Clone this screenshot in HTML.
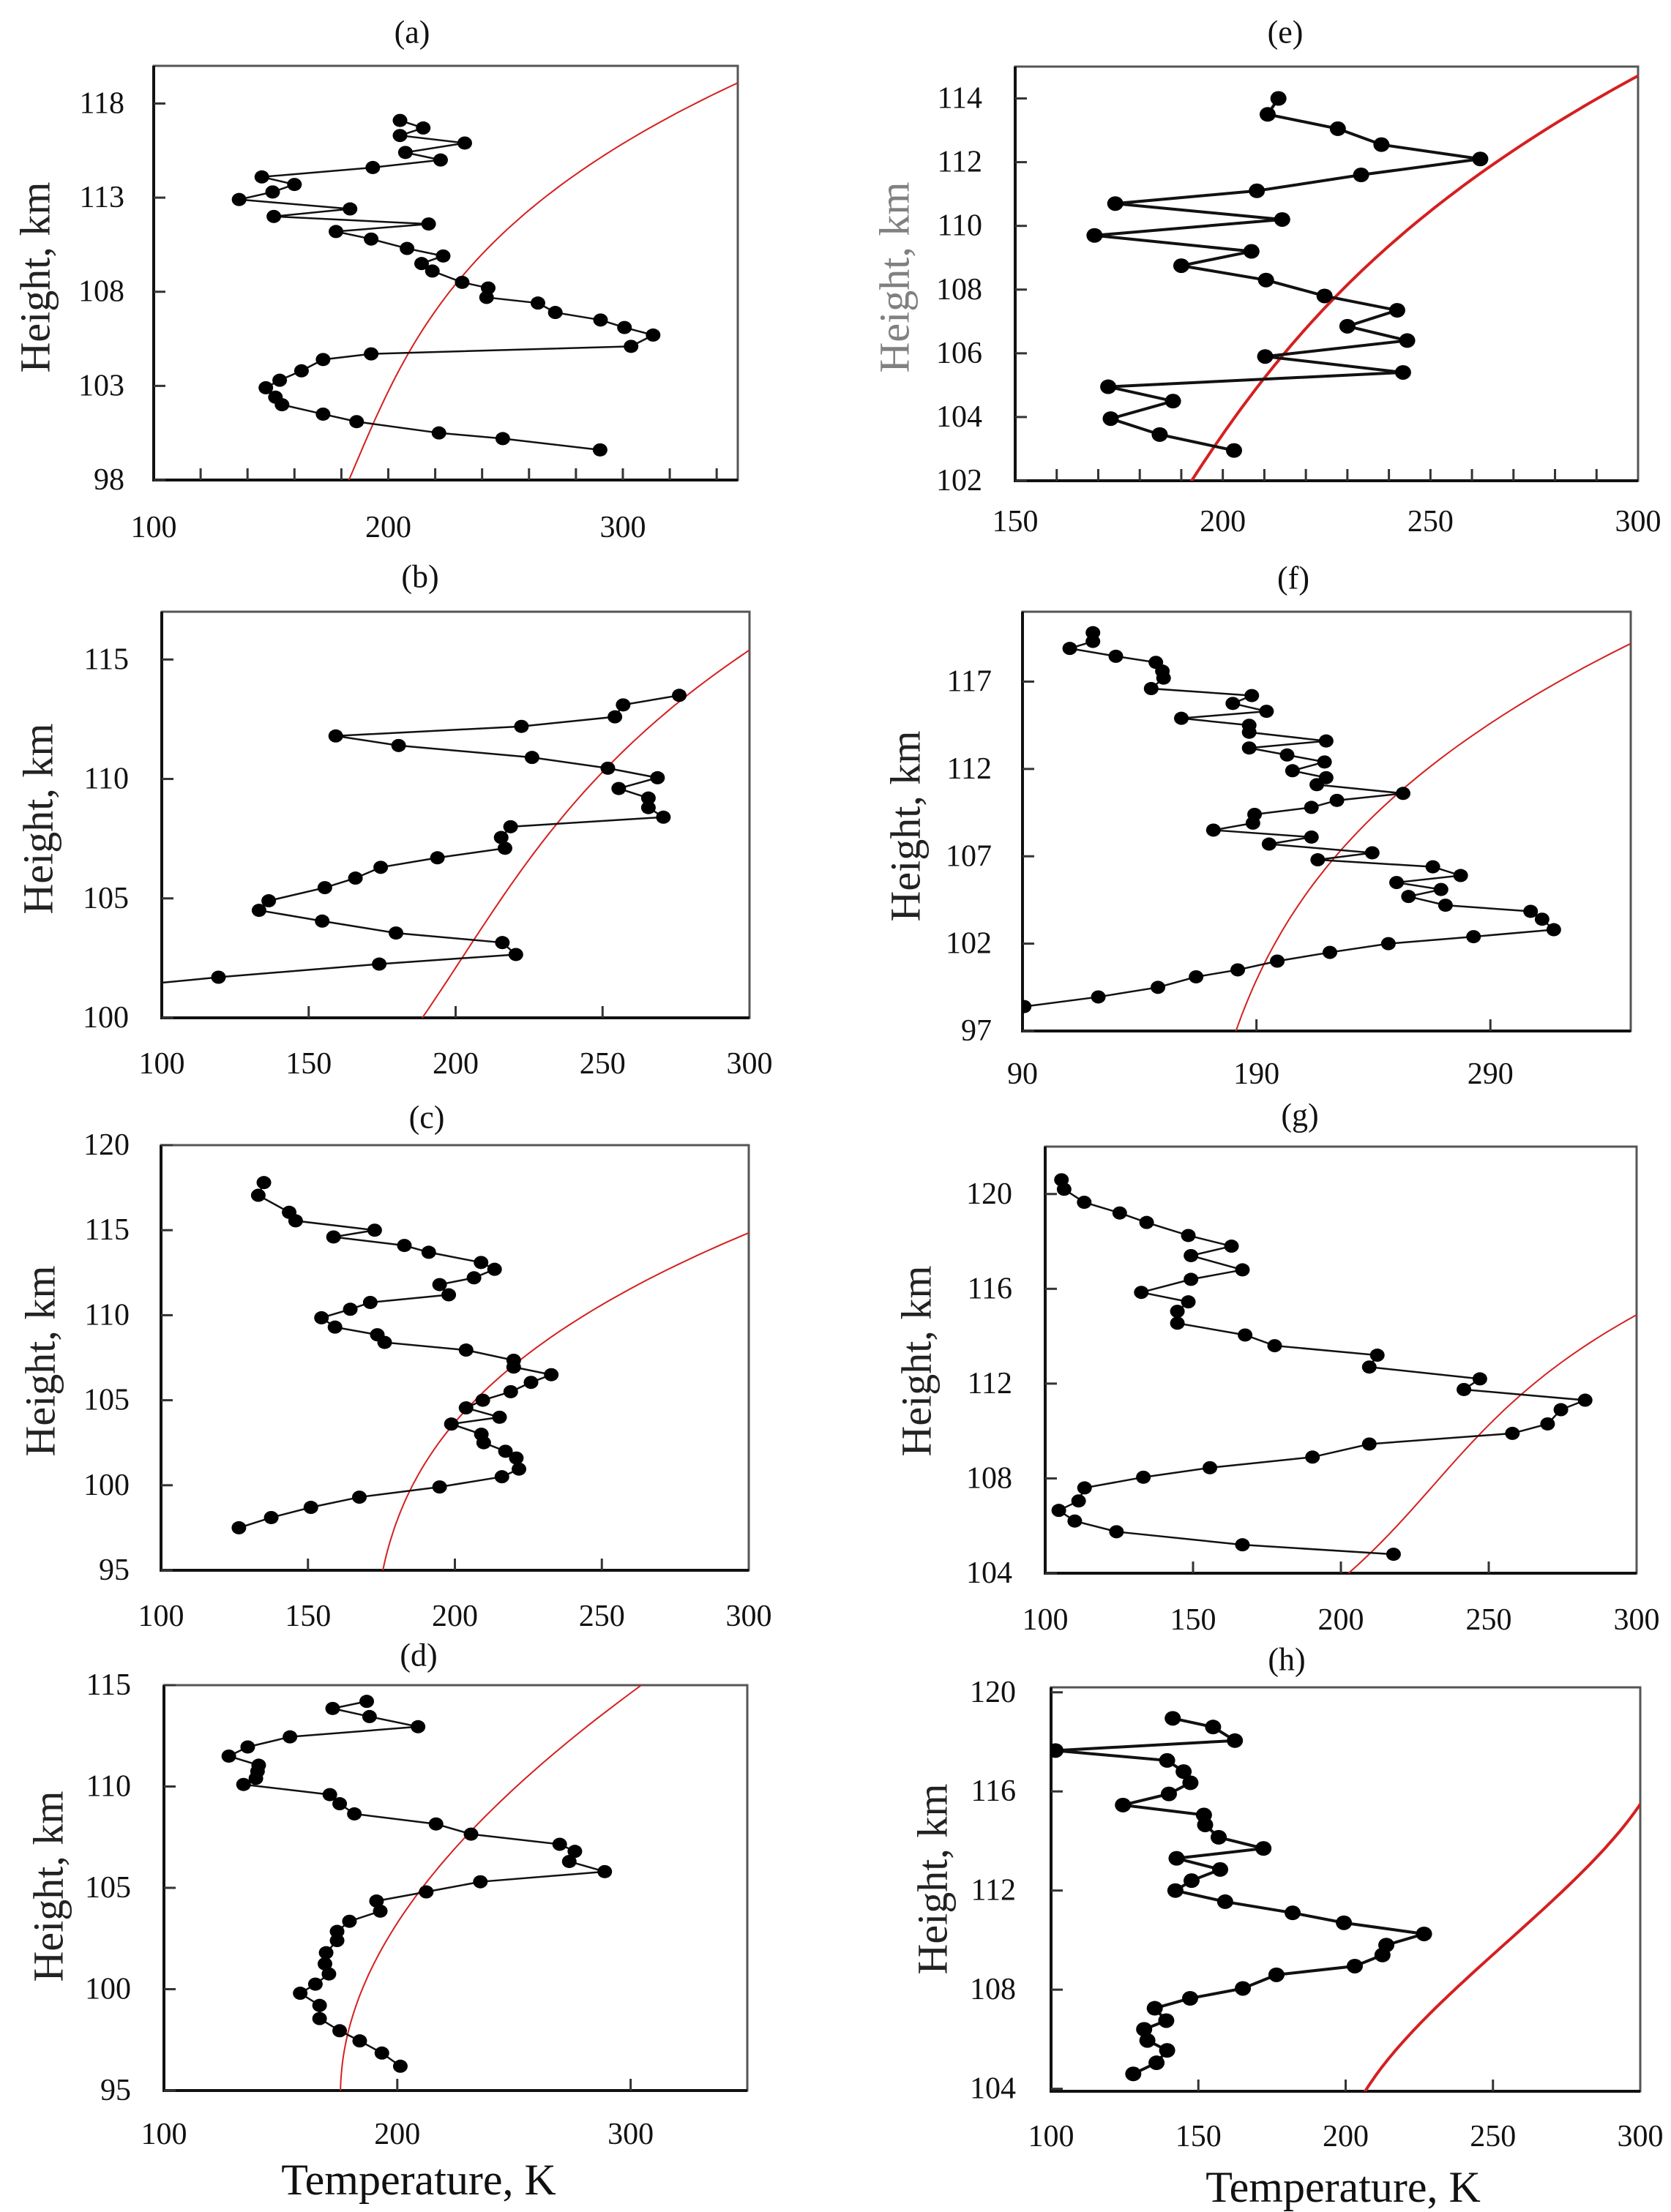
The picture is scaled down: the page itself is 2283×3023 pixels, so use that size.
<!DOCTYPE html>
<html><head><meta charset="utf-8"><title>Temperature profiles</title>
<style>
html,body{margin:0;padding:0;background:#fff;}
svg{display:block;}
text{font-family:"Liberation Serif","DejaVu Serif",serif;fill:#111;}
</style></head>
<body>
<svg id="fig" xmlns="http://www.w3.org/2000/svg" width="2283" height="3023" viewBox="0 0 2283 3023"></svg>
<script>
// ---- data (T in K, H in km) ----
const aT=[205,214.9,205,232.6,207.3,222.3,193.4,146.1,160,150.7,136.4,183.7,151.2,217.2,177.7,192.7,208,223.4,214.2,218.8,231.5,242.6,241.9,263.8,271.2,290.5,300.7,312.9,303.5,192.7,172.2,163,153.7,147.8,151.9,154.7,172.2,186.5,221.6,248.8,290.3];
const aH=[117.1,116.7,116.3,115.9,115.4,115.0,114.6,114.1,113.7,113.3,112.9,112.4,112.0,111.6,111.2,110.8,110.3,109.9,109.5,109.1,108.5,108.2,107.7,107.4,106.9,106.5,106.1,105.7,105.1,104.7,104.4,103.8,103.3,102.9,102.4,102.0,101.5,101.1,100.5,100.2,99.6];
const aCT=[184,189,200,211,228,239,265,295,349];
const aCH=[98,100,103,105,108,110,113,115.4,119.1];

const eT=[213.4,210.8,227.7,238.2,262,233.3,208.2,174.1,214.3,169.1,206.9,190,210.4,224.5,242,230,244.4,210.2,243.4,172.4,188,173,184.8,202.7];
const eH=[114.0,113.5,113.05,112.55,112.1,111.6,111.1,110.7,110.2,109.7,109.2,108.75,108.3,107.8,107.35,106.85,106.4,105.9,105.4,104.95,104.5,103.95,103.45,102.95];
const eCT=[192.6,197.8,209.5,214.7,227.7,243.4,263,300];
const eCH=[102,103.05,105.2,106,107.8,109.7,111.8,114.7];

const bT=[276.1,257,254.2,222.4,159.2,180.6,226,251.8,268.7,255.5,265.6,265.6,270.7,218.7,215.5,216.8,193.8,174.5,165.9,155.5,136.4,133.1,154.6,179.7,215.9,220.5,174,119.3,90];
const bH=[113.5,113.1,112.6,112.2,111.8,111.4,110.9,110.45,110.05,109.6,109.2,108.8,108.4,108.0,107.55,107.1,106.7,106.3,105.85,105.45,104.9,104.5,104.05,103.55,103.15,102.65,102.25,101.7,101.35];
const bCT=[190.2,198.5,206.8,228.8,250.9,276.6,301];
const bCH=[100,102.3,103.7,106.5,110.6,113.4,115.4];

const fT=[120.1,120.1,110.2,129.9,147,149.8,150.3,145,188,179.9,194.3,157.9,186.9,186.9,219.8,186.9,203.1,219.1,205.4,219.8,215.8,252.7,224.4,213.5,189.2,188.5,171.6,213.5,195.4,239.5,216.2,265.4,277.3,249.9,268.9,255,270.8,307.2,312.1,317.1,282.8,246.4,221.4,198.9,182,164.2,147.9,122.4,90.7];
const fH=[119.8,119.3,118.9,118.45,118.1,117.6,117.2,116.6,116.2,115.75,115.3,114.9,114.5,114.1,113.6,113.2,112.8,112.4,111.9,111.5,111.1,110.6,110.2,109.8,109.4,108.9,108.5,108.1,107.7,107.2,106.8,106.4,105.9,105.5,105.1,104.7,104.2,103.85,103.4,102.8,102.4,102.0,101.5,101.0,100.5,100.1,99.5,98.95,98.4];
const fCT=[182.2,189.7,205.9,224.4,254.5,298.6,350];
const fCH=[97,100.5,103.6,107.1,110.8,115.6,119.1];

const cT=[135,133.1,143.6,145.8,172.7,158.7,182.8,191.1,208.9,213.5,206.5,194.8,197.9,171.2,164.4,154.6,159.2,173.6,176.1,203.8,220,220,232.8,225.9,219,209.5,203.8,215.2,198.8,209,209.8,217.2,220.9,221.8,216,194.8,167.5,151,137.5,126.5];
const cH=[117.8,117.05,116.05,115.55,115.0,114.6,114.1,113.7,113.1,112.7,112.2,111.8,111.2,110.75,110.35,109.85,109.3,108.85,108.4,107.95,107.35,106.95,106.5,106.05,105.5,105.0,104.55,104.0,103.6,103.0,102.5,102.0,101.6,100.95,100.5,99.9,99.3,98.7,98.1,97.5];
const cCT=[175.8,179.5,185,196,220,251.2,301];
const cCH=[95,97.8,99.9,102.7,107,110.8,114.9];

const gT=[105.5,106.4,113.2,125.2,134.3,148.4,163,149.3,166.7,149.3,132.5,148.4,144.7,144.7,167.6,177.6,212.3,209.6,247,241.6,282.6,274.4,269.9,258,209.6,190.4,155.7,133.2,113.3,111.3,104.6,110,124.1,166.7,217.8];
const gH=[120.6,120.2,119.65,119.2,118.8,118.25,117.8,117.4,116.8,116.4,115.85,115.45,115.05,114.55,114.05,113.6,113.2,112.7,112.2,111.75,111.3,110.9,110.3,109.9,109.45,108.9,108.45,108.05,107.6,107.05,106.65,106.2,105.75,105.2,104.8];
const gCT=[203.2,211.4,229.7,244.3,259.8,300];
const gCH=[104,105.2,107.3,109.6,111.4,114.9];

const dT=[186.9,172.3,188.1,208.9,154,135.9,127.8,140.6,140.1,139.4,134.1,171.1,175.3,181.6,216.6,231.6,269.6,276.1,273.7,288.9,235.6,212.4,191.1,192.7,179.5,174.2,174.2,169.5,169,170.7,164.9,158.4,166.7,166.7,175.3,183.9,193.4,201.3];
const dH=[114.2,113.85,113.45,112.95,112.45,111.95,111.5,111.05,110.75,110.4,110.1,109.6,109.15,108.65,108.15,107.65,107.15,106.8,106.3,105.8,105.3,104.8,104.35,103.85,103.35,102.85,102.4,101.8,101.25,100.75,100.25,99.8,99.2,98.55,97.95,97.45,96.85,96.2];
const dCT=[175.3,177.6,186.9,205.4,231,261,304];
const dCH=[95,97.2,100.1,104.4,107.9,110.8,115];

const hT=[141.3,155,162.4,101.5,139.4,145,147.3,140,124.4,151.9,152.3,156.9,172.1,142.6,157.4,147.7,142.2,159.1,182,199.4,226.6,213.8,212.5,203.1,176.5,165.1,147.2,135.2,139.1,131.6,132.7,139.4,135.8,127.9];
const hH=[118.95,118.6,118.05,117.65,117.25,116.8,116.35,115.9,115.45,115.05,114.65,114.15,113.7,113.3,112.85,112.4,112.0,111.55,111.1,110.7,110.25,109.8,109.4,108.95,108.6,108.05,107.65,107.25,106.75,106.4,105.95,105.55,105.05,104.6];
const hCT=[206.4,219.3,237.6,256,274.3,300];
const hCH=[103.9,105.8,108.1,110.1,112,115.5];

// tick labels
const aXTicks=[100,200,300], aYTicks=[98,103,108,113,118];
const eXTicks=[150,200,250,300], eYTicks=[102,104,106,108,110,112,114];
const bXTicks=[100,150,200,250,300], bYTicks=[100,105,110,115];
const fXTicks=[90,190,290], fYTicks=[97,102,107,112,117];
const cXTicks=[100,150,200,250,300], cYTicks=[95,100,105,110,115,120];
const gXTicks=[100,150,200,250,300], gYTicks=[104,108,112,116,120];
const dXTicks=[100,200,300], dYTicks=[95,100,105,110,115];
const hXTicks=[100,150,200,250,300], hYTicks=[104,108,112,116,120];

const NS='http://www.w3.org/2000/svg';
const svg=document.getElementById('fig');
function mk(tag,attrs,parent){const e=document.createElementNS(NS,tag);for(const k in attrs)e.setAttribute(k,attrs[k]);(parent||svg).appendChild(e);return e;}

// least-squares polynomial fit of T(h)
function polyfit(xs,ys,deg){
  const n=deg+1,A=[];for(let i=0;i<n;i++){A.push(new Array(n+1).fill(0));}
  xs.forEach((x,k)=>{for(let i=0;i<n;i++){for(let j=0;j<n;j++)A[i][j]+=Math.pow(x,i+j);A[i][n]+=ys[k]*Math.pow(x,i);}});
  for(let i=0;i<n;i++){let m=i;for(let r=i+1;r<n;r++)if(Math.abs(A[r][i])>Math.abs(A[m][i]))m=r;[A[i],A[m]]=[A[m],A[i]];
    for(let r=0;r<n;r++){if(r===i)continue;const f=A[r][i]/A[i][i];for(let c=i;c<=n;c++)A[r][c]-=f*A[i][c];}}
  return A.map((row,i)=>row[n]/row[i]);
}

const panels=[
 {id:'a',x0:210,x1:1008,y0:90,y1:656,tmin:100,tmax:349,hmin:98,hmax:120,T:aT,H:aH,CT:aCT,CH:aCH,xt:aXTicks,yt:aYTicks,minor:20,title:[563,44],ytx:170,xty:721,yl:[48,379],lw:2.5,r:9,rw:2,ylc:'#222'},
 {id:'e',x0:1387,x1:2238,y0:91,y1:657,tmin:150,tmax:300,hmin:102,hmax:115,T:eT,H:eH,CT:eCT,CH:eCH,xt:eXTicks,yt:eYTicks,minor:10,title:[1756,44],ytx:1342,xty:713,yl:[1222,379],lw:4,r:10,rw:4,ylc:'#808080'},
 {id:'b',x0:221,x1:1024,y0:836,y1:1391,tmin:100,tmax:300,hmin:100,hmax:117,T:bT,H:bH,CT:bCT,CH:bCH,xt:bXTicks,yt:bYTicks,minor:50,title:[574,788],ytx:176,xty:1454,yl:[52,1119],lw:2.5,r:9,rw:2,ylc:'#222'},
 {id:'f',x0:1397,x1:2228,y0:836,y1:1409,tmin:90,tmax:350,hmin:97,hmax:121,T:fT,H:fH,CT:fCT,CH:fCH,xt:fXTicks,yt:fYTicks,minor:100,title:[1767,790],ytx:1355,xty:1468,yl:[1237,1129],lw:2.5,r:9,rw:2,ylc:'#222'},
 {id:'c',x0:220,x1:1023,y0:1565,y1:2146,tmin:100,tmax:300,hmin:95,hmax:120,T:cT,H:cH,CT:cCT,CH:cCH,xt:cXTicks,yt:cYTicks,minor:50,title:[583,1527],ytx:177,xty:2209,yl:[55,1860],lw:2.5,r:9,rw:2,ylc:'#222'},
 {id:'g',x0:1428,x1:2236,y0:1567,y1:2150,tmin:100,tmax:300,hmin:104,hmax:122,T:gT,H:gH,CT:gCT,CH:gCH,xt:gXTicks,yt:gYTicks,minor:50,title:[1776,1524],ytx:1383,xty:2214,yl:[1252,1860],lw:2.5,r:9,rw:2,ylc:'#222'},
 {id:'d',x0:224,x1:1021,y0:2303,y1:2857,tmin:100,tmax:350,hmin:95,hmax:115,T:dT,H:dH,CT:dCT,CH:dCH,xt:dXTicks,yt:dYTicks,minor:100,title:[572,2262],ytx:179,xty:2917,yl:[66,2578],lw:2.5,r:9,rw:2,ylc:'#222',xtitle:[572,2979]},
 {id:'h',x0:1436,x1:2241,y0:2306,y1:2858,tmin:100,tmax:300,hmin:103.9,hmax:120.2,T:hT,H:hH,CT:hCT,CH:hCH,xt:hXTicks,yt:hYTicks,minor:50,title:[1758,2268],ytx:1388,xty:2920,yl:[1274,2568],lw:4,r:10,rw:4,ylc:'#222',xtitle:[1835,2989]}
];

const defs=mk('defs',{});
panels.forEach(p=>{
  const sx=t=>p.x0+(t-p.tmin)/(p.tmax-p.tmin)*(p.x1-p.x0);
  const sy=h=>p.y1-(h-p.hmin)/(p.hmax-p.hmin)*(p.y1-p.y0);
  const g=mk('g',{});
  
  
  const cp=mk('clipPath',{id:'clip-'+p.id},defs);
  mk('rect',{x:p.x0,y:p.y0,width:p.x1-p.x0,height:p.y1-p.y0},cp);

  const title=mk('text',{x:p.title[0],y:p.title[1],'text-anchor':'middle','dominant-baseline':'central','font-size':44},g);
  title.textContent='('+p.id+')';
  
  

  const fr=mk('rect',{x:p.x0,y:p.y0,width:p.x1-p.x0,height:p.y1-p.y0,fill:'none',stroke:'#555','stroke-width':3},g);
  
  
  const ax=mk('path',{d:`M${p.x0},${p.y0} L${p.x0},${p.y1} L${p.x1},${p.y1}`,fill:'none',stroke:'#111','stroke-width':4},g);
  
  

  for(let t=p.tmin+p.minor;t<p.tmax-1;t+=p.minor){
    const tk=mk('line',{x1:sx(t),x2:sx(t),y1:p.y1,y2:p.y1-16,stroke:'#333','stroke-width':3},g);
    
    
  }
  p.xt.forEach(t=>{
    const tx=mk('text',{x:sx(t),y:p.xty,'text-anchor':'middle','dominant-baseline':'central','font-size':42},g);
    tx.textContent=t;
    
    
  });
  p.yt.forEach(h=>{
    const tk=mk('line',{x1:p.x0,x2:p.x0+16,y1:sy(h),y2:sy(h),stroke:'#333','stroke-width':3},g);
    
    
    const tx=mk('text',{x:p.ytx,y:sy(h),'text-anchor':'end','dominant-baseline':'central','font-size':42},g);
    tx.textContent=h;
    
    
  });
  const yl=mk('text',{x:p.yl[0],y:p.yl[1],'text-anchor':'middle','dominant-baseline':'central','font-size':58,transform:`rotate(-90 ${p.yl[0]} ${p.yl[1]})`,style:'fill:'+p.ylc},g);
  yl.textContent='Height, km';
  
  
  if(p.xtitle){
    const xl=mk('text',{x:p.xtitle[0],y:p.xtitle[1],'text-anchor':'middle','dominant-baseline':'central','font-size':60},g);
    xl.textContent='Temperature, K';
    
    
  }

  const inner=mk('g',{'clip-path':`url(#clip-${p.id})`},g);
  // smooth model curve: cubic least-squares fit of T(h) through curve arrays
  const h0=p.CH[0];
  const co=polyfit(p.CH.map(h=>h-h0),p.CT,3);
  const hA=p.CH[0]-0.5,hB=p.CH[p.CH.length-1]+1;
  const pts=[];
  for(let k=0;k<=80;k++){const h=hA+(hB-hA)*k/80,u=h-h0;const t=co[0]+co[1]*u+co[2]*u*u+co[3]*u*u*u;pts.push(sx(t).toFixed(1)+','+sy(h).toFixed(1));}
  const red=mk('polyline',{points:pts.join(' '),fill:'none',stroke:'#d42020','stroke-width':p.rw},inner);
  
  
  const pl=mk('polyline',{points:p.T.map((t,i)=>sx(t)+','+sy(p.H[i])).join(' '),fill:'none',stroke:'#111','stroke-width':p.lw},inner);
  
  
  p.T.forEach((t,i)=>{
    const c=mk('ellipse',{cx:sx(t),cy:sy(p.H[i]),rx:p.r+1,ry:p.r,fill:'#000'},inner);
    
    
  });
});
</script>
</body></html>
